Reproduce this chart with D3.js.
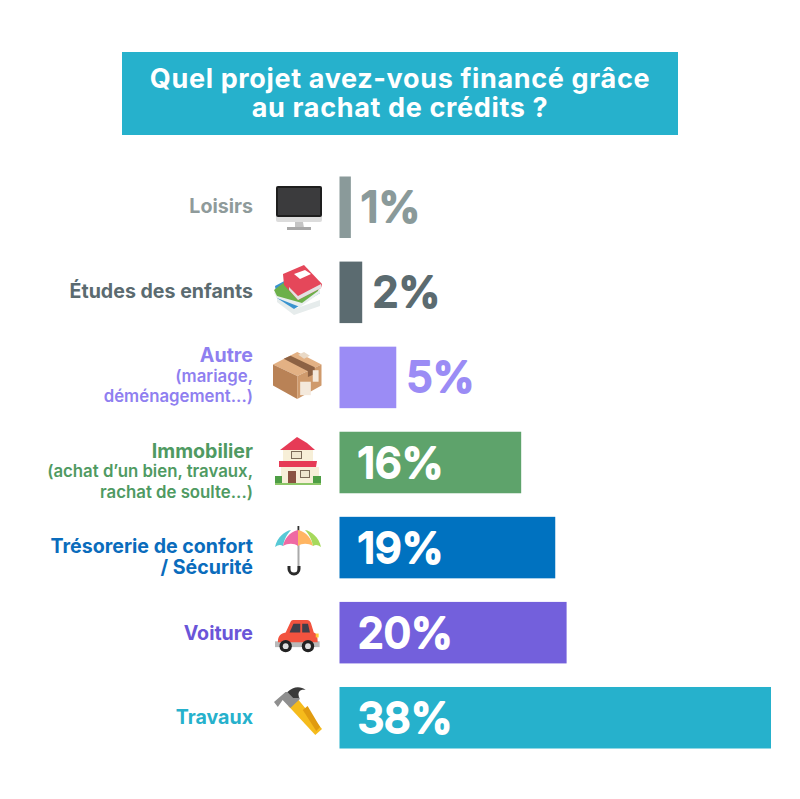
<!DOCTYPE html>
<html><head><meta charset="utf-8">
<script src="https://d3js.org/d3.v7.min.js"></script>
<style>html,body{margin:0;padding:0;background:#fff}svg{display:block}text{font-family:Inter,"Noto Sans",sans-serif}</style>
</head><body><svg id="c" width="800" height="799"></svg>
<script>
const categories=["Loisirs","Études des enfants","Autre","Immobilier","Trésorerie de confort","Voiture","Travaux"];
const subLabels=[[],[],["(mariage,","déménagement...)"],["(achat d’un bien, travaux,","rachat de soulte...)"],["/ Sécurité"],[],[]];
const values=[1,2,5,16,19,20,38];
const colors=["#8a9a9a","#5b6b70","#9b8cf5","#5ea36b","#0072c0","#7360dc","#26b1cc"];
const labelColors=["#8f9b9b","#5b6b70","#8f7ff0","#4f9a62","#0a6cbc","#6a55d8","#26b1cc"];
const icons=["screen","books","box","house","umbrella","car","hammer"];
const titleLines=["Quel projet avez-vous financé grâce","au rachat de crédits ?"];

const svg=d3.select("#c");
const x=d3.scaleLinear().domain([0,38]).range([339.5,771]);
const y=d3.scaleBand().domain(categories).range([176.5,748.5]).paddingInner(0.277).paddingOuter(0);

svg.append("rect").attr("x",122).attr("y",52).attr("width",556).attr("height",83).attr("fill","#26b1cc");
svg.append("text").attr("text-anchor","middle")
 .attr("fill","#fff").attr("font-size",27).attr("font-weight",700).attr("letter-spacing",0.65)
 .selectAll("tspan").data(titleLines).join("tspan")
 .attr("x",400).attr("y",(d,i)=>88+i*29).text(d=>d);

svg.selectAll("rect.b").data(values).join("rect").attr("class","b")
 .attr("x",x(0)).attr("y",(d,i)=>y(categories[i])).attr("width",d=>x(d)-x(0))
 .attr("height",y.bandwidth()).attr("fill",(d,i)=>colors[i]);

svg.selectAll("text.v").data(values).join("text").attr("class","v")
 .attr("x",(d,i)=>d<10?x(d)+10:x(0)+18)
 .attr("y",(d,i)=>y(categories[i])+y.bandwidth()/2+15)
 .attr("font-size",43).attr("font-weight",500).attr("letter-spacing",-0.6)
 .attr("fill",(d,i)=>d<10?colors[i]:"#fff")
 .attr("stroke",(d,i)=>d<10?colors[i]:"#fff").attr("stroke-width",1.8).attr("stroke-linejoin","round").attr("stroke-linecap","round")
 .text(d=>d+"%");

// baseline of each label line, relative to the row's centre
const lineOffsets={0:[6],1:[6],2:[-15,5,25],3:[-5,14,35],4:[5,26],5:[7],6:[6]};
categories.forEach((c,i)=>{
  const cy=y(c)+y.bandwidth()/2;
  const lines=[c].concat(subLabels[i]);
  svg.append("text").attr("text-anchor","end").attr("fill",labelColors[i])
    .selectAll("tspan").data(lines).join("tspan")
    .attr("x",253).attr("y",(t,j)=>cy+lineOffsets[i][j])
    .attr("font-size",(t,j)=>(j>0&&i!==4)?16.8:19.6)
    .attr("font-weight",(t,j)=>(j>0&&i!==4)?600:700)
    .text(t=>t);
});

const draw={
 screen(g){
  g.append("rect").attr("x",1).attr("y",2).attr("width",46).attr("height",36).attr("rx",2).attr("fill","#dcdcdc");
  g.append("rect").attr("x",1).attr("y",2).attr("width",46).attr("height",31).attr("rx",2).attr("fill","#1e1e1e");
  g.append("rect").attr("x",3).attr("y",4).attr("width",42).attr("height",27).attr("fill","#3b3b3d");
  g.append("path").attr("d","M20 38h8l1 6h-9z").attr("fill","#c4c4c4");
  g.append("rect").attr("x",12).attr("y",43).attr("width",24).attr("height",3).attr("fill","#a8a8a8");
 },
 books(g){
  g.append("path").attr("d","M3 31L20 44 46 35 46 41 20 50 3 37z").attr("fill","#e6ecec");
  g.append("path").attr("d","M1 21L16 13 46 28 20 44 3 33z").attr("fill","#3a93cf");
  g.append("path").attr("d","M0 28L18 13 46 24 46 28 26 42 3 33z").attr("fill","#e8eeee");
  g.append("path").attr("d","M0 25L20 10 46 17 44 26 28 38 3 31z").attr("fill","#6cb04a");
  g.append("path").attr("d","M9 9L30 0 48 19 47 23 24 35 10 20z").attr("fill","#e5475a");
  g.append("path").attr("d","M15 22L24 31 47 19 47 23 24 35 15 25z").attr("fill","#e2e2e2");
  g.append("path").attr("d","M20 9L31 5 37 9 26 14z").attr("fill","#fff");
 },
 box(g){
  g.append("path").attr("d","M25 1L50 14 25 26 0 14z").attr("fill","#e3b184");
  g.append("path").attr("d","M0 14L25 26 25 50 0 36z").attr("fill","#b98256");
  g.append("path").attr("d","M50 14L25 26 25 50 50 36z").attr("fill","#cf9a6c");
  g.append("path").attr("d","M11 8L36 21 36 27 43 24 43 17 18 5z").attr("fill","#8d6244");
  g.append("path").attr("d","M26 4L32 1 38 5 32 8z").attr("fill","#e9d9c6");
  g.append("rect").attr("x",28).attr("y",32).attr("width",11).attr("height",14).attr("fill","#f4e9dc");
  g.append("rect").attr("x",41).attr("y",20).attr("width",6).attr("height",12).attr("fill","#f4e9dc");
 },
 house(g){
  g.append("rect").attr("x",8).attr("y",12).attr("width",30).attr("height",14).attr("fill","#f7efd8");
  g.append("path").attr("d","M22 0L32 6 40 13H5z").attr("fill","#e63b56");
  g.append("rect").attr("x",6).attr("y",30).attr("width",38).attr("height",16).attr("fill","#f7efd8");
  g.append("path").attr("d","M4 24H42L41 30H4z").attr("fill","#e63b56");
  g.append("rect").attr("x",16).attr("y",14).attr("width",11).attr("height",8).attr("fill","#7b6a58");
  g.append("rect").attr("x",17).attr("y",15).attr("width",9).attr("height",6).attr("fill","#efe6cf");
  g.append("rect").attr("x",25).attr("y",33).attr("width",10).attr("height",8).attr("fill","#7b6a58");
  g.append("rect").attr("x",26).attr("y",34).attr("width",8).attr("height",6).attr("fill","#efe6cf");
  g.append("rect").attr("x",13).attr("y",34).attr("width",8).attr("height",12).attr("fill","#8a5241");
  g.append("rect").attr("x",0).attr("y",39).attr("width",7).attr("height",8).attr("fill","#4e9e45");
  g.append("rect").attr("x",38).attr("y",39).attr("width",8).attr("height",8).attr("fill","#4e9e45");
  g.append("rect").attr("x",0).attr("y",46).attr("width",46).attr("height",2).attr("fill","#8cc667");
 },
 umbrella(g){
  g.append("rect").attr("x",22.5).attr("y",1).attr("width",1.8).attr("height",6).attr("fill","#333");
  g.append("rect").attr("x",22.5).attr("y",20).attr("width",2).attr("height",27).attr("fill","#aaa");
  g.append("path").attr("d","M14 41v3a5 5 0 0 0 10 0v-3").attr("fill","none").attr("stroke","#2b2b2b").attr("stroke-width",3);
  const segs=[["M0 22C2 12 10 6 16 5 11 10 9 16 8 21 5 19 3 20 0 22z","#57c9d6"],["M8 21C9 15 14 7 23 5V21C19 18 13 18 8 21z","#ef6aa3"],["M23 5C32 7 37 15 38 21 33 18 27 18 23 21z","#ffb562"],["M30 5C36 6 44 12 46 22 43 20 41 19 38 21 37 16 35 10 30 5z","#a6d95c"]];
  g.selectAll("path.s").data(segs).join("path").attr("class","s").attr("d",d=>d[0]).attr("fill",d=>d[1]);
 },
 car(g){
  g.append("rect").attr("x",0).attr("y",23).attr("width",46).attr("height",6).attr("fill","#b9b9b9");
  g.append("path").attr("d","M3 24C3 17 6 15 11 14L16 3C17 1 18 1 20 1H33C35 1 36 2 37 4L40 14C43 15 44 18 44 24z").attr("fill","#f2533f");
  g.append("path").attr("d","M15 14L19 5H26V14z").attr("fill","#3f3f4a");
  g.append("path").attr("d","M28 5H34L36 14H28z").attr("fill","#3f3f4a");
  [11,34].forEach(cx=>{
   g.append("circle").attr("cx",cx).attr("cy",28).attr("r",6.4).attr("fill","#222");
   g.append("circle").attr("cx",cx).attr("cy",28).attr("r",3).attr("fill","#ddd");
  });
  g.append("rect").attr("x",42).attr("y",15).attr("width",3).attr("height",4).attr("fill","#ffc93c");
 },
 hammer(g){
  g.append("path").attr("d","M15 20L24 12 50 43 43 49z").attr("fill","#f5bb1c");
  g.append("path").attr("d","M30 24L35 20 48 41 44 45z").attr("fill","#e09b10");
  g.append("path").attr("d","M0 16L12 6 24 6 27 13 17 22 9 14 4 21z").attr("fill","#8f8f8f");
  g.append("path").attr("d","M14 6C20 0 28 0 33 4 28 3 24 5 26 12L20 12z").attr("fill","#3a3a3a");
 }
};
const iconPos={screen:[275,184],books:[274,265],box:[273,351],house:[275,437],umbrella:[275,525],car:[275,619],hammer:[274,686]};
const iconScale={screen:[1,1],books:[1,1],box:[0.97,0.96],house:[1,1],umbrella:[1,1],car:[0.97,0.97],hammer:[0.96,1]};
svg.selectAll("g.icon").data(icons).join("g").attr("class","icon")
 .attr("transform",d=>`translate(${iconPos[d]}) scale(${iconScale[d].join(",")})`)
 .each(function(d){draw[d](d3.select(this));});
</script></body></html>
